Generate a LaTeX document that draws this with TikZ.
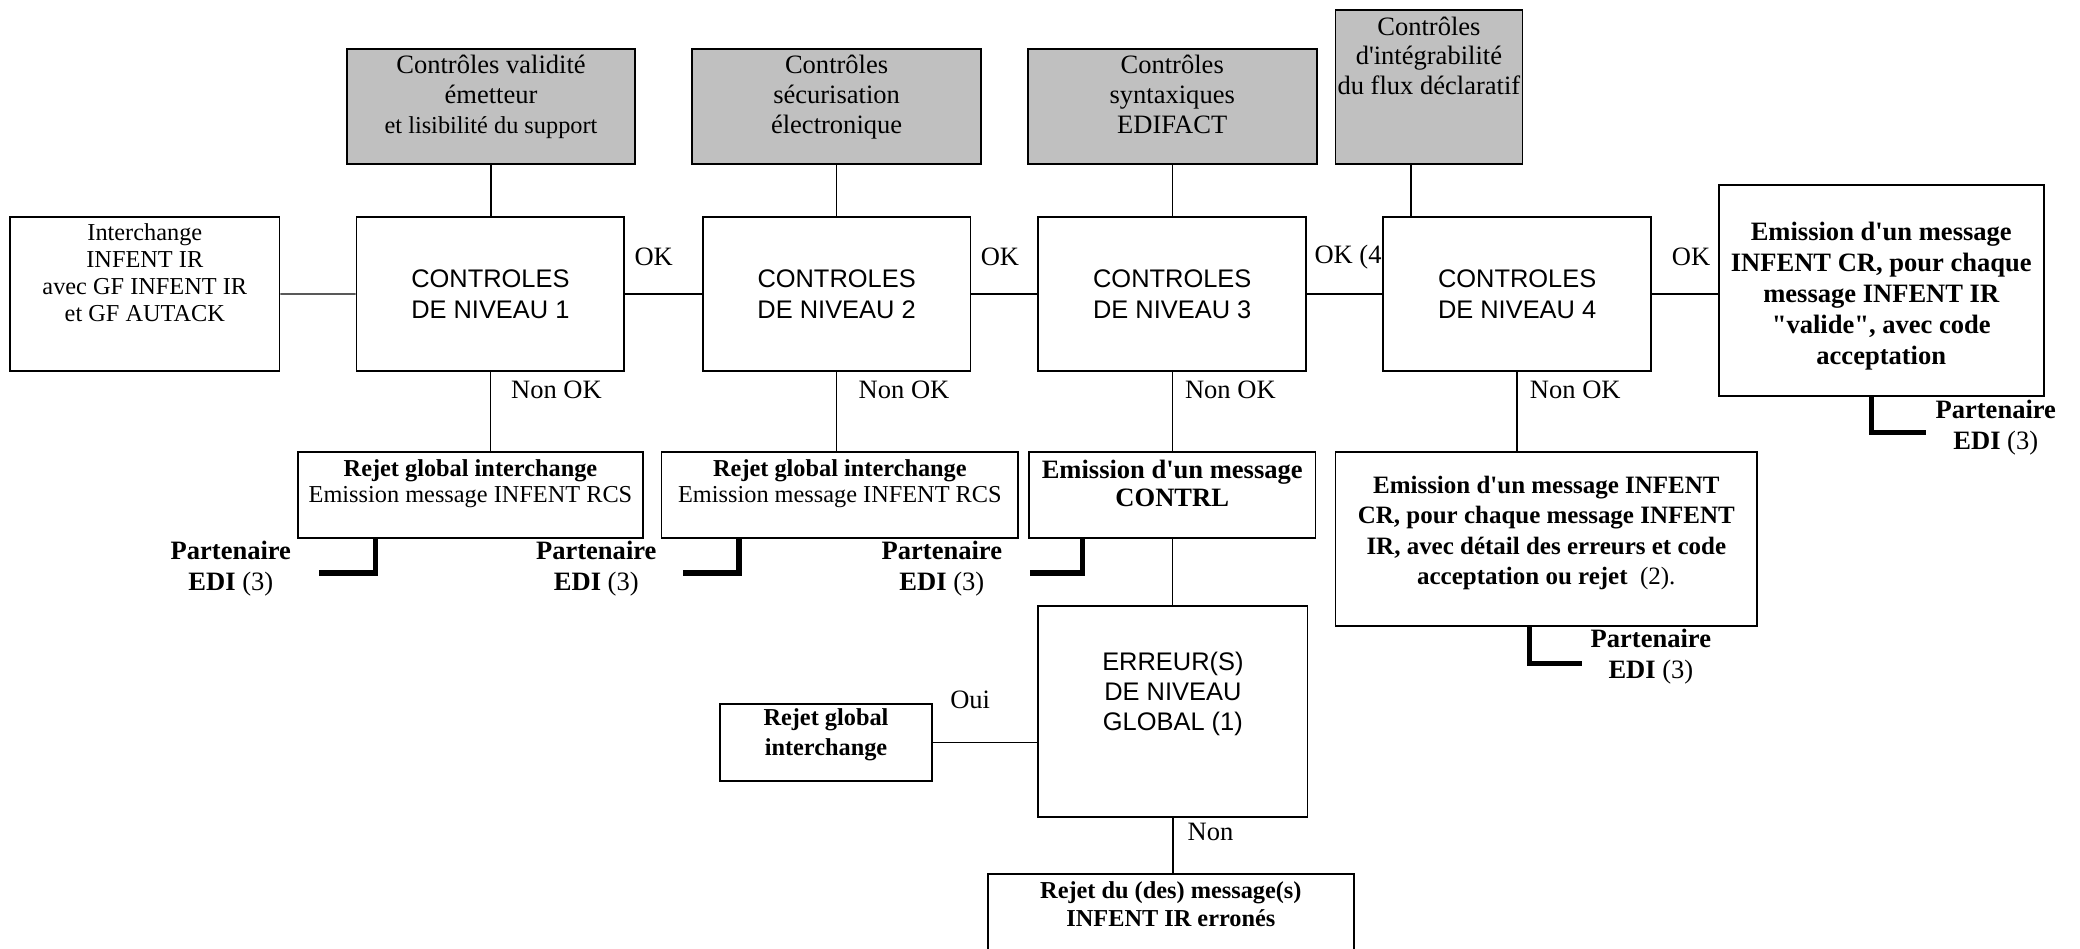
\documentclass[tikz,border=0pt]{standalone}
\usepackage{fontspec}
\setmainfont{Liberation Serif}
\setsansfont{Liberation Sans}
\usepackage{tikz}
\definecolor{grisbox}{RGB}{192,192,192}
\newcommand\cadre[4]{\parbox[c][\dimexpr0.6pt*#2\relax][t]{\dimexpr0.6pt*#1\relax}{\centering\rule{0pt}{#3}#4\par}}
\newcommand\apos{\textquotesingle}

\begin{document}
\begin{tikzpicture}[x=0.6pt, y=-0.6pt,
  box/.style={draw, fill=white, line width=0.8pt, inner sep=0pt, anchor=north west},
  grey/.style={box, fill=grisbox, font=\fontsize{12}{13.5}\selectfont},
  niveau/.style={box, minimum width=121.2pt, minimum height=69.6pt, align=center,
    font=\sffamily\fontsize{11.5}{13.8}\selectfont},
  lien/.style={line width=0.6pt},
  edi/.style={line width=2.4pt},
  lbl/.style={inner sep=0pt, anchor=west, font=\fontsize{12}{14}\selectfont},
  pe/.style={inner sep=0pt, align=center, font=\fontsize{12}{13.8}\selectfont}]
  \useasboundingbox (0,0) rectangle (1568,715);

  \node[lbl] (ok3) at (990.6,193.5) {OK (4};

  \node[grey] (g1) at (261,36) {\cadre{217}{87}{11.3pt}{Contrôles validité\\émetteur\\{\fontsize{11}{13.5}\selectfont et lisibilité du support}}};
  \node[grey] (g2) at (521,36) {\cadre{218}{87}{11.3pt}{Contrôles\\sécurisation\\électronique}};
  \node[grey] (g3) at (774,36) {\cadre{218}{87}{11.3pt}{Contrôles\\syntaxiques\\EDIFACT}};
  \node[grey] (g4) at (1006,7) {\cadre{141}{116}{11.3pt}{Contrôles\\d\apos intégrabilité\\du flux déclaratif}};

  \node[box, font=\fontsize{11}{12.2}\selectfont] (inter) at (7,163)
    {\cadre{203}{116}{10.5pt}{Interchange\\INFENT IR\\avec GF INFENT IR\\et GF AUTACK}};
  \foreach \i/\x in {1/268,2/529,3/782,4/1042} {
    \node[niveau] (cn\i) at (\x,163) {CONTROLES\\DE NIVEAU \i};
  }
  \node[box, font=\bfseries\fontsize{12}{14}\selectfont] (okb) at (1295,139)
    {\cadre{245}{159}{25.1pt}{Emission d\apos un message\\INFENT CR, pour chaque\\message INFENT IR\\\textquotedbl valide\textquotedbl, avec code\\acceptation}};

  \node[box, font=\fontsize{11}{12}\selectfont] (rej1) at (224,340)
    {\cadre{260}{65}{11.1pt}{\textbf{Rejet global interchange}\\Emission message INFENT RCS}};
  \node[box, font=\fontsize{11}{12}\selectfont] (rej2) at (498,340)
    {\cadre{269}{65}{11.1pt}{\textbf{Rejet global interchange}\\Emission message INFENT RCS}};
  \node[box, font=\bfseries\fontsize{12}{12.9}\selectfont] (contrl) at (775,340)
    {\cadre{216}{65}{11.9pt}{Emission d\apos un message\\CONTRL}};
  \node[box, font=\fontsize{11.3}{13.8}\selectfont] (box4) at (1006,340)
    {\cadre{318}{131}{18.7pt}{{\bfseries Emission d\apos un message INFENT\\CR, pour chaque message INFENT\\IR, avec détail des erreurs et code\\acceptation ou rejet}\ \ (2).}};

  \node[box, font=\sffamily\fontsize{11.5}{13.5}\selectfont] (err) at (782,456)
    {\cadre{203}{159}{29.4pt}{ERREUR(S)\\DE NIVEAU\\GLOBAL (1)}};
  \node[box, font=\bfseries\fontsize{11}{13.2}\selectfont] (rejg) at (542,530)
    {\cadre{160}{58}{9.9pt}{Rejet global\\interchange}};
  \node[box, font=\bfseries\fontsize{11}{12.6}\selectfont] (fin) at (744,658)
    {\cadre{276}{90}{11.1pt}{Rejet du (des) message(s)\\INFENT IR erronés}};

  \node[lbl] (ok1) at (478,193.5) {OK};
  \node[lbl] (ok2) at (739,193.5) {OK};
  \node[lbl] (ok4) at (1260,193.5) {OK};
  \foreach \i/\x in {1/385,2/647,3/893,4/1153} {
    \node[lbl] (nok\i) at (\x,294) {Non OK};
  }
  \node[lbl] (oui) at (716,527.7) {Oui};
  \node[lbl] (non) at (895,627) {Non};

  \node[pe] (pe1) at (174,428.5) {\textbf{Partenaire}\\\textbf{EDI} (3)};
  \node[pe] (pe2) at (449.5,428.5) {\textbf{Partenaire}\\\textbf{EDI} (3)};
  \node[pe] (pe3) at (710,428.5) {\textbf{Partenaire}\\\textbf{EDI} (3)};
  \node[pe] (pe4) at (1244.5,495) {\textbf{Partenaire}\\\textbf{EDI} (3)};
  \node[pe] (pe5) at (1504.5,322.5) {\textbf{Partenaire}\\\textbf{EDI} (3)};

  \draw[lien] (inter) -- (cn1);
  \foreach \a/\b in {1/2,2/3,3/4} {
    \draw[lien] (cn\a) -- (cn\b);
  }
  \draw[lien] (cn4.east) -- (cn4.east -| okb.west);
  \foreach \i in {1,2,3} {
    \draw[lien] (g\i.south) -- (g\i.south |- cn\i.north);
  }
  \draw[lien] ([xshift=-8.1pt]g4.south) -- ([xshift=-8.1pt]g4.south |- cn4.north);
  \draw[lien] (cn1.south) -- (cn1.south |- rej1.north);
  \draw[lien] (cn2.south) -- (cn2.south |- rej2.north);
  \draw[lien] (cn3.south) -- (cn3.south |- contrl.north);
  \draw[lien] (cn4.south) -- (cn4.south |- box4.north);
  \draw[lien] (contrl.south) -- (contrl.south |- err.north);
  \draw[lien] (rejg.east) -- (rejg.east -| err.west);
  \draw[lien] (err.south) -- (err.south |- fin.north);

  \draw[edi] ([xshift=35.4pt]rej1.south west) |- ([xshift=12.6pt,yshift=-2.1pt]pe1.east);
  \draw[edi] ([xshift=35.4pt]rej2.south west) |- ([xshift=12pt,yshift=-2.1pt]pe2.east);
  \draw[edi] ([xshift=24.6pt]contrl.south west) |- ([xshift=12.6pt,yshift=-2.1pt]pe3.east);
  \draw[edi] ([xshift=88.2pt]box4.south west) |- ([xshift=-3.6pt,yshift=-3pt]pe4.west);
  \draw[edi] ([xshift=69.6pt]okb.south west) |- ([xshift=-4.2pt,yshift=-2.1pt]pe5.west);
\end{tikzpicture}
\end{document}
